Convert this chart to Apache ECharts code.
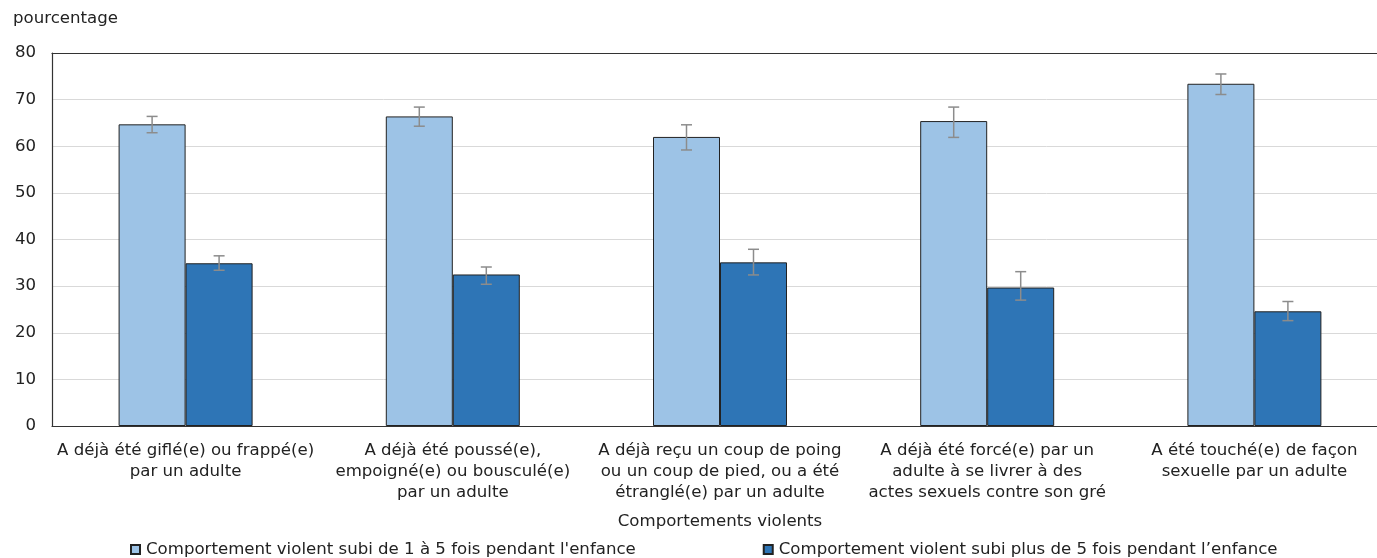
<!DOCTYPE html>
<html lang="fr">
<head>
<meta charset="utf-8">
<title>Comportements violents subis pendant l'enfance</title>
<script src="https://cdn.jsdelivr.net/npm/echarts@6/dist/echarts.min.js"></script>
<style>
  html, body { margin: 0; padding: 0; background: #fff; }
  #chart { width: 1377px; height: 558px; }
</style>
</head>
<body>
<div id="chart"></div>
<script>
// Catégories de comportements violents
const categories = [
  "A déjà été giflé(e) ou frappé(e)\npar un adulte",
  "A déjà été poussé(e),\nempoigné(e) ou bousculé(e)\npar un adulte",
  "A déjà reçu un coup de poing\nou un coup de pied, ou a été\nétranglé(e) par un adulte",
  "A déjà été forcé(e) par un\nadulte à se livrer à des\nactes sexuels contre son gré",
  "A été touché(e) de façon\nsexuelle par un adulte"
];

const seriesNames = [
  "Comportement violent subi de 1 à 5 fois pendant l'enfance",
  "Comportement violent subi plus de 5 fois pendant l’enfance"
];

// 1 à 5 fois : pourcentage et intervalle de confiance
const oneToFive = [64.7, 66.4, 62.0, 65.4, 73.4];
const oneToFiveLow = [62.9, 64.3, 59.2, 61.9, 71.1];
const oneToFiveHigh = [66.4, 68.4, 64.6, 68.4, 75.5];

// Plus de 5 fois : pourcentage et intervalle de confiance
const moreThanFive = [34.9, 32.5, 35.1, 29.7, 24.6];
const moreThanFiveLow = [33.4, 30.4, 32.4, 27.0, 22.6];
const moreThanFiveHigh = [36.5, 34.1, 37.9, 33.1, 26.7];

const yTicks = [0, 10, 20, 30, 40, 50, 60, 70, 80];

const FONT = "DejaVu Sans";
const FS = 16.6;
const TEXT = "#222";
const BAR_W = 67;
const CAP = 11;

// Barres d'erreur dessinées via une série personnalisée
function errorSeries(name, low, high, offset) {
  return {
    type: "custom",
    name: name + " IC",
    xAxisIndex: 0,
    yAxisIndex: 0,
    silent: true,
    z: 10,
    data: low.map((l, i) => [i, l, high[i]]),
    renderItem: function (params, api) {
      const lo = api.coord([api.value(0), api.value(1)]);
      const hi = api.coord([api.value(0), api.value(2)]);
      const x = lo[0] + offset;
      const style = { stroke: "#8c8c8c", lineWidth: 1.5 };
      return {
        type: "group",
        children: [
          { type: "line", shape: { x1: x, y1: hi[1], x2: x, y2: lo[1] }, style },
          { type: "line", shape: { x1: x - CAP / 2, y1: hi[1], x2: x + CAP / 2, y2: hi[1] }, style },
          { type: "line", shape: { x1: x - CAP / 2, y1: lo[1], x2: x + CAP / 2, y2: lo[1] }, style }
        ]
      };
    }
  };
}

const chart = echarts.init(document.getElementById("chart"), null, { renderer: "canvas" });

chart.setOption({
  animation: false,
  backgroundColor: "#fff",
  textStyle: { fontFamily: FONT, fontSize: FS, color: TEXT },
  grid: {
    left: 52, top: 53, width: 1336, bottom: 132,
    containLabel: false,
    outerBoundsMode: "none"
  },
  legend: {
    data: seriesNames,
    top: 541,
    left: 130,
    padding: 0,
    icon: "rect",
    itemWidth: 9,
    itemHeight: 9,
    itemGap: 127,
    textStyle: { fontFamily: FONT, fontSize: FS, color: TEXT, padding: [0, 0, 0, 1] }
  },
  xAxis: [
    {
      type: "category",
      data: categories,
      name: "Comportements violents",
      nameLocation: "middle",
      nameGap: 87,
      nameTextStyle: { fontFamily: FONT, fontSize: FS, color: TEXT },
      axisLine: { lineStyle: { color: "#333", width: 1.2 } },
      axisTick: { show: false },
      axisLabel: {
        interval: 0,
        margin: 14,
        fontFamily: FONT,
        fontSize: FS,
        lineHeight: 21,
        color: TEXT,
        align: "center"
      }
    },
    {
      // Bordure supérieure de la zone de tracé
      type: "category",
      data: categories,
      position: "top",
      axisLine: { show: true, lineStyle: { color: "#333", width: 1.2 } },
      axisTick: { show: false },
      axisLabel: { show: false }
    }
  ],
  yAxis: {
    type: "value",
    min: yTicks[0],
    max: yTicks[yTicks.length - 1],
    interval: 10,
    name: "pourcentage",
    nameLocation: "end",
    nameGap: 26,
    nameTextStyle: { fontFamily: FONT, fontSize: FS, color: TEXT, align: "left", padding: [0, 0, 0, -39] },
    axisLine: { show: true, lineStyle: { color: "#333", width: 1.2 } },
    axisTick: { show: false },
    axisLabel: { fontFamily: FONT, fontSize: FS, color: TEXT, margin: 16 },
    splitLine: { lineStyle: { color: "#d9d9d9", width: 1 } }
  },
  series: [
    {
      name: seriesNames[0],
      type: "bar",
      data: oneToFive,
      barWidth: BAR_W,
      barGap: "0%",
      itemStyle: { color: "#9dc3e6", borderColor: "#222", borderWidth: 1 }
    },
    {
      name: seriesNames[1],
      type: "bar",
      data: moreThanFive,
      barWidth: BAR_W,
      barGap: "0%",
      itemStyle: { color: "#2e75b6", borderColor: "#222", borderWidth: 1 }
    },
    errorSeries(seriesNames[0], oneToFiveLow, oneToFiveHigh, -BAR_W / 2),
    errorSeries(seriesNames[1], moreThanFiveLow, moreThanFiveHigh, BAR_W / 2)
  ]
});
</script>
</body>
</html>
